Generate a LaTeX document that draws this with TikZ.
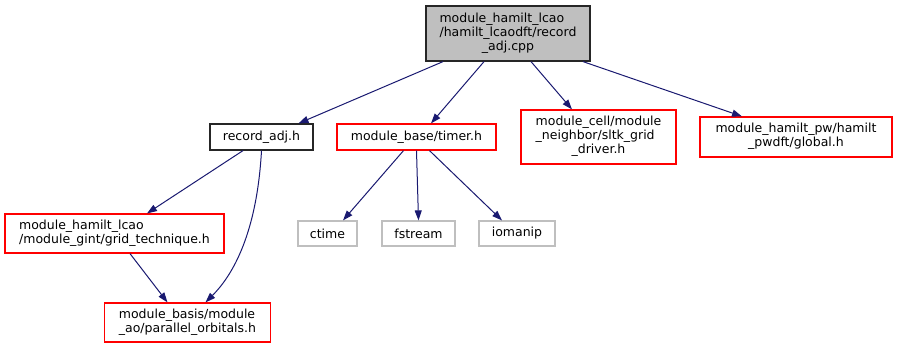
\documentclass[tikz,border=0pt]{standalone}
\usepackage{fontspec}
\setmainfont{DejaVu Sans}
\usetikzlibrary{arrows.meta}
\definecolor{depred}{HTML}{FF0000}
\definecolor{depgrey}{HTML}{BFBFBF}
\definecolor{depblue}{HTML}{191970}
\newcommand{\deplines}[1]{\begin{tabular}{@{}l@{}}#1\end{tabular}}
\newcommand{\deplast}[1]{\multicolumn{1}{@{}c@{}}{#1}}

\begin{document}
\begin{tikzpicture}[
    x=1pt, y=-1pt,
    font=\fontsize{12.5}{14}\selectfont,
    depbox/.style={draw=depred, fill=white, line width=1.2pt, inner sep=0pt},
    deproot/.style={depbox, draw=black!85, fill=depgrey},
    deplocal/.style={depbox, draw=black!85},
    depsys/.style={depbox, draw=depgrey},
    depedge/.style={draw=depblue, line width=1pt, -{Triangle[length=10pt,width=7pt]}}
]
  \useasboundingbox (0,0) rectangle (897,349);
  % file and its direct includes
  \node[deproot, minimum width=164pt, minimum height=55pt] (cpp) at (508,33.5)
    {\deplines{module\_hamilt\_lcao\\/hamilt\_lcaodft/record\\\deplast{\_adj.cpp}}};
  \node[deplocal, minimum width=103pt, minimum height=26pt] (recadj) at (261.5,137) {record\_adj.h};
  \node[depbox, minimum width=159pt, minimum height=26pt] (timer) at (416.5,137) {module\_base/timer.h};
  \node[depbox, minimum width=155pt, minimum height=54pt] (sltk) at (598.5,137)
    {\deplines{module\_cell/module\\\_neighbor/sltk\_grid\\\deplast{\_driver.h}}};
  \node[depbox, minimum width=192pt, minimum height=40pt] (global) at (796,137)
    {\deplines{module\_hamilt\_pw/hamilt\\\deplast{\_pwdft/global.h}}};
  % second level
  \node[depbox, minimum width=219pt, minimum height=39pt] (gridtech) at (114.5,233.5)
    {\deplines{module\_hamilt\_lcao\\\deplast{/module\_gint/grid\_technique.h}}};
  \node[depbox, minimum width=166pt, minimum height=39pt] (porb) at (187.5,322.5)
    {\deplines{module\_basis/module\\\deplast{\_ao/parallel\_orbitals.h}}};
  \node[depsys, minimum width=59pt, minimum height=25pt] (ctime) at (327.5,233.5) {ctime};
  \node[depsys, minimum width=73pt, minimum height=25pt] (fstream) at (418.5,233.5) {fstream};
  \node[depsys, minimum width=76pt, minimum height=25pt] (iomanip) at (517,233.5) {iomanip};

  \draw[depedge] ([xshift=-65pt]cpp.south) -- ([xshift=37pt]recadj.north);
  \draw[depedge] ([xshift=-24pt]cpp.south) -- ([xshift=14.5pt]timer.north);
  \draw[depedge] ([xshift=23pt]cpp.south) -- ([xshift=-26.5pt]sltk.north);
  \draw[depedge] ([xshift=75pt]cpp.south) -- ([xshift=-54pt]global.north);
  \draw[depedge] ([xshift=-18.5pt]recadj.south) -- ([xshift=32.5pt]gridtech.north);
  \draw[depedge] (recadj.south) .. controls +(-5,90) and +(23,-23) .. ([xshift=18pt]porb.north);
  \draw[depedge] ([xshift=15.5pt]gridtech.south) -- ([xshift=-20pt]porb.north);
  \draw[depedge] ([xshift=-13pt]timer.south) -- ([xshift=15.5pt]ctime.north);
  \draw[depedge] (timer.south) -- (fstream.north);
  \draw[depedge] ([xshift=13pt]timer.south) -- ([xshift=-15pt]iomanip.north);
\end{tikzpicture}
\end{document}
